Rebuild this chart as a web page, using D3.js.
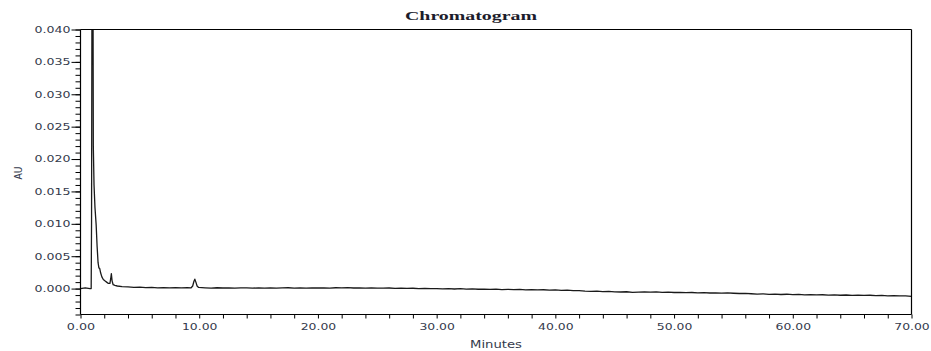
<!DOCTYPE html>
<html>
<head>
<meta charset="utf-8">
<script src="https://cdn.jsdelivr.net/npm/d3@7"></script>
<style>
  html, body { margin: 0; padding: 0; background: #fff; }
  svg { display: block; }
</style>
</head>
<body>
<svg id="chart" width="931" height="351"></svg>
<script>
// ---- data ----
const chartTitle = "Chromatogram";
const xAxisLabel = "Minutes";
const yAxisLabel = "AU";

const xMajorTicks = [0, 10, 20, 30, 40, 50, 60, 70];
const xMinorTicks = [0,2,4,6,8,10,12,14,16,18,20,22,24,26,28,30,32,34,36,38,40,42,44,46,48,50,52,54,56,58,60,62,64,66,68,70];
const yMajorTicks = [0.000, 0.005, 0.010, 0.015, 0.020, 0.025, 0.030, 0.035, 0.040];
const yMinorTicks = [-0.004,-0.003,-0.002,-0.001,0.000,0.001,0.002,0.003,0.004,0.005,0.006,0.007,0.008,0.009,0.010,0.011,0.012,0.013,0.014,0.015,0.016,0.017,0.018,0.019,0.020,0.021,0.022,0.023,0.024,0.025,0.026,0.027,0.028,0.029,0.030,0.031,0.032,0.033,0.034,0.035,0.036,0.037,0.038,0.039,0.040];

const times = [
  0.0, 0.4, 0.8, 0.90, 0.93, 0.97, 1.05, 1.08, 1.14, 1.22, 1.32, 1.40, 1.48, 1.55, 1.62, 1.70, 1.80, 1.92, 2.05, 2.20, 2.35, 2.48, 2.55, 2.60, 2.66, 2.75, 2.90, 3.10, 3.5,
  4.0, 4.5, 5.0, 5.5, 6.0, 6.5, 7.0, 7.5, 8.0, 8.5, 9.0, 9.3, 9.45, 9.55, 9.63, 9.72, 9.82, 9.95,
  10.5, 11.0, 11.5, 12.0, 12.5, 13.0, 13.5, 14.0, 14.5, 15.0, 15.5, 16.0, 16.5, 17.0, 17.5, 18.0, 18.5, 19.0, 19.5,
  20.0, 20.5, 21.0, 21.5, 22.0, 22.5, 23.0, 23.5, 24.0, 24.5, 25.0, 25.5, 26.0, 26.5, 27.0, 27.5, 28.0, 28.5, 29.0, 29.5,
  30.0, 30.5, 31.0, 31.5, 32.0, 32.5, 33.0, 33.5, 34.0, 34.5, 35.0, 35.5, 36.0, 36.5, 37.0, 37.5, 38.0, 38.5, 39.0, 39.5,
  40.0, 40.5, 41.0, 41.5, 42.0, 42.5, 43.0, 43.5, 44.0, 44.5, 45.0, 45.5, 46.0, 46.5, 47.0, 47.5, 48.0, 48.5, 49.0, 49.5,
  50.0, 50.5, 51.0, 51.5, 52.0, 52.5, 53.0, 53.5, 54.0, 54.5, 55.0, 55.5, 56.0, 56.5, 57.0, 57.5, 58.0, 58.5, 59.0, 59.5,
  60.0, 60.5, 61.0, 61.5, 62.0, 62.5, 63.0, 63.5, 64.0, 64.5, 65.0, 65.5, 66.0, 66.5, 67.0, 67.5, 68.0, 68.5, 69.0, 69.5, 70.0
];
const absorbance = [
  0.00000, 0.00010, 0.00000, 0.00000, 0.01000, 0.05000, 0.05000, 0.02200, 0.01600, 0.01250, 0.00980, 0.00650, 0.00400, 0.00320, 0.00310, 0.00240, 0.00180, 0.00140, 0.00120, 0.00100, 0.00080, 0.00080, 0.00160, 0.00230, 0.00120, 0.00060, 0.00050, 0.00040, 0.00030,
  0.00025, 0.00020, 0.00022, 0.00016, 0.00018, 0.00012, 0.00015, 0.00010, 0.00014, 0.00011, 0.00013, 0.00010, 0.00040, 0.00110, 0.00145, 0.00100, 0.00040, 0.00018,
  0.00012, 0.00008, 0.00013, 0.00009, 0.00012, 0.00007, 0.00011, 0.00010, 0.00006, 0.00012, 0.00008, 0.00011, 0.00007, 0.00010, 0.00013, 0.00008, 0.00010, 0.00006, 0.00011,
  0.00009, 0.00012, 0.00008, 0.00013, 0.00010, 0.00014, 0.00009, 0.00011, 0.00007, 0.00010, 0.00008, 0.00006, 0.00009, 0.00004, 0.00007, 0.00003, 0.00005, 0.00000, 0.00003, -0.00002,
  0.00001, -0.00004, -0.00001, -0.00006, -0.00002, -0.00008, -0.00004, -0.00010, -0.00007, -0.00013, -0.00009, -0.00015, -0.00011, -0.00016, -0.00013, -0.00019, -0.00015, -0.00021, -0.00018, -0.00024,
  -0.00021, -0.00027, -0.00025, -0.00032, -0.00030, -0.00038, -0.00042, -0.00039, -0.00046, -0.00043, -0.00050, -0.00053, -0.00049, -0.00058, -0.00055, -0.00050, -0.00056, -0.00052, -0.00058, -0.00054,
  -0.00060, -0.00057, -0.00063, -0.00060, -0.00066, -0.00062, -0.00068, -0.00065, -0.00070, -0.00067, -0.00072, -0.00076, -0.00073, -0.00080, -0.00085, -0.00082, -0.00088, -0.00085, -0.00091, -0.00087,
  -0.00093, -0.00090, -0.00096, -0.00092, -0.00098, -0.00095, -0.00100, -0.00097, -0.00103, -0.00099, -0.00104, -0.00101, -0.00106, -0.00103, -0.00108, -0.00105, -0.00111, -0.00108, -0.00114, -0.00112, -0.00120
];

// ---- layout ----
const plotLeft = 80.5, plotRight = 911.5, plotTop = 29.5, plotBottom = 314.5;
const labelColor = "#343a4c";

const svg = d3.select("#chart");
const x = d3.scaleLinear().domain([0, 70]).range([plotLeft, plotRight]);
const y = d3.scaleLinear().domain([-0.004, 0.040]).range([plotBottom, plotTop]);

// clip
svg.append("defs").append("clipPath").attr("id", "plotclip")
  .append("rect").attr("x", plotLeft).attr("y", plotTop)
  .attr("width", plotRight - plotLeft).attr("height", plotBottom - plotTop);

// trace
const pts = times.map((t, i) => [t, absorbance[i]]);
svg.append("path")
  .datum(pts)
  .attr("clip-path", "url(#plotclip)")
  .attr("fill", "none")
  .attr("stroke", "#1a1a1a")
  .attr("stroke-width", 1.3)
  .attr("stroke-linejoin", "round")
  .attr("d", d3.line().x(d => x(d[0])).y(d => y(d[1])));

// frame (top + right)
svg.append("line").attr("x1", plotLeft).attr("x2", plotRight).attr("y1", plotTop).attr("y2", plotTop)
  .attr("stroke", "#000").attr("stroke-width", 1.2);
svg.append("line").attr("x1", plotRight).attr("x2", plotRight).attr("y1", plotTop).attr("y2", plotBottom)
  .attr("stroke", "#000").attr("stroke-width", 1.2);

// y minor ticks
svg.append("g").attr("transform", `translate(${plotLeft},0)`)
  .call(d3.axisLeft(y).tickValues(yMinorTicks).tickSize(5).tickFormat(""))
  .call(g => g.select(".domain").remove())
  .call(g => g.selectAll("line").attr("stroke", "#000"));

// y major axis
const yAx = svg.append("g").attr("transform", `translate(${plotLeft},0)`)
  .call(d3.axisLeft(y).tickValues(yMajorTicks).tickSize(9).tickPadding(1).tickFormat(d3.format(".3f")));
yAx.select(".domain").attr("stroke", "#000").attr("stroke-width", 1.2).attr("d", `M0,${plotBottom}V${plotTop}`);
yAx.selectAll("line").attr("stroke", "#000");
yAx.selectAll("text")
  .attr("fill", labelColor)
  .style("font-family", "'DejaVu Sans', Verdana, sans-serif")
  .style("font-size", "9px")
  .attr("textLength", 36)
  .attr("lengthAdjust", "spacingAndGlyphs");

// x axis
const xAx = svg.append("g").attr("transform", `translate(0,${plotBottom})`)
  .call(d3.axisBottom(x).tickValues(xMinorTicks).tickSize(4).tickPadding(5)
    .tickFormat(d => xMajorTicks.includes(d) ? d3.format(".2f")(d) : ""));
xAx.select(".domain").attr("stroke", "#000").attr("stroke-width", 1.2).attr("d", `M${plotLeft},0H${plotRight}`);
xAx.selectAll("line").attr("stroke", "#000");
xAx.selectAll("text")
  .attr("fill", labelColor)
  .style("font-family", "'DejaVu Sans', Verdana, sans-serif")
  .style("font-size", "9px")
  .each(function(d) {
    const s = d3.select(this).text();
    if (s) d3.select(this).attr("textLength", s.length * 7.1).attr("lengthAdjust", "spacingAndGlyphs");
  });

// title
svg.append("text")
  .attr("x", 471).attr("y", 20)
  .attr("text-anchor", "middle")
  .attr("fill", "#1c1c2c")
  .style("font-family", "'Liberation Serif', 'Times New Roman', serif")
  .style("font-weight", "bold")
  .style("font-size", "12.5px")
  .attr("textLength", 132)
  .attr("lengthAdjust", "spacingAndGlyphs")
  .text(chartTitle);

// x label
svg.append("text")
  .attr("x", 496).attr("y", 348)
  .attr("text-anchor", "middle")
  .attr("fill", labelColor)
  .style("font-family", "'DejaVu Sans', Verdana, sans-serif")
  .style("font-size", "10.5px")
  .attr("textLength", 52)
  .attr("lengthAdjust", "spacingAndGlyphs")
  .text(xAxisLabel);

// y label
svg.append("text")
  .attr("transform", "translate(21.5,173) rotate(-90)")
  .attr("text-anchor", "middle")
  .attr("fill", labelColor)
  .style("font-family", "'DejaVu Sans', Verdana, sans-serif")
  .style("font-size", "11px")
  .attr("textLength", 13)
  .attr("lengthAdjust", "spacingAndGlyphs")
  .text(yAxisLabel);
</script>
</body>
</html>
